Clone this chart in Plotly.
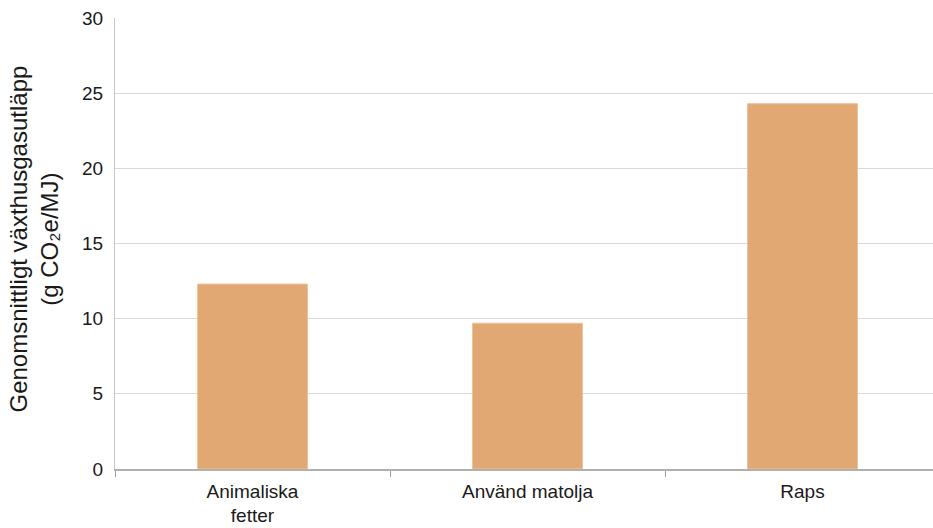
import plotly.graph_objects as go

categories = ["Animaliska<br>fetter", "Använd matolja", "Raps"]
values = [12.3, 9.7, 24.3]
y_ticks = [0, 5, 10, 15, 20, 25, 30]
y_title = "Genomsnittligt växthusgasutläpp<br>(g CO₂e/MJ)"

W, H = 933, 528
ml, mr, mt, mb = 115, 0, 18, 59
pw = W - ml - mr
ph = H - mt - mb

fig = go.Figure()
fig.add_trace(go.Bar(
    x=categories, y=values, width=0.4,
    marker=dict(color="#E2A873", line=dict(color="#EDC39C", width=1)),
))

font = "Liberation Sans, Arial, sans-serif"
fig.update_layout(
    width=W, height=H,
    margin=dict(l=ml, r=mr, t=mt, b=mb),
    paper_bgcolor="white", plot_bgcolor="white",
    showlegend=False,
    font=dict(family=font, size=19, color="#1a1a1a"),
    xaxis=dict(
        type="category",
        range=[-0.5, -0.5 + pw / 275.0],
        tickson="boundaries", ticks="outside", ticklen=6, tickcolor="#9a9a9a",
        showline=True, linecolor="#b0b0b0", linewidth=1.5,
        ticklabelstandoff=4,
        showgrid=False, tickfont=dict(size=19, family=font, color="#1a1a1a"),
    ),
    yaxis=dict(
        range=[0, 30], tickvals=y_ticks,
        showgrid=True, gridcolor="#d9d9d9", gridwidth=1,
        showline=True, linecolor="#c8c8c8", linewidth=1,
        ticks="", ticklabelstandoff=7,
        tickfont=dict(size=19, family=font, color="#1a1a1a"),
        zeroline=False,
    ),
    annotations=[dict(
        text=y_title, textangle=-90,
        xref="paper", yref="paper",
        x=(34 - ml) / pw, y=0.5 + 4 / ph, xanchor="center", yanchor="middle",
        showarrow=False, font=dict(size=24, family=font, color="#1a1a1a"),
    )],
)

fig.write_html("out.html")
